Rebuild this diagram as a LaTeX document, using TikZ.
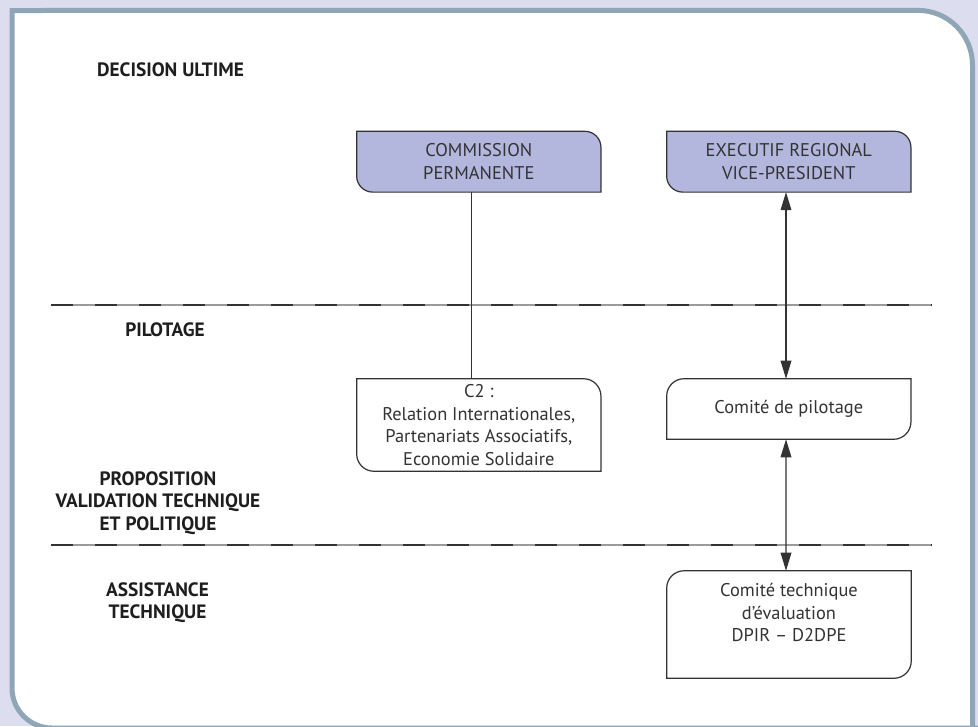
\documentclass[tikz,border=0pt]{standalone}
\usepackage{fontspec}
\setmainfont{PT Sans}
\usetikzlibrary{arrows.meta}

\definecolor{pagebg}{HTML}{DDDDF0}
\definecolor{panelrim}{HTML}{8FA6B8}
\definecolor{boxfill}{HTML}{B3B7DE}
\definecolor{inkdark}{HTML}{333333}
\definecolor{inkgray}{HTML}{9A9A9A}
\definecolor{headink}{HTML}{1E1E1E}

\tikzset{
  head/.style={font=\bfseries\fontsize{14.5}{17}\selectfont, text=headink, align=center, inner sep=0pt},
  boxtext/.style={font=\fontsize{13.8}{16.8}\selectfont, text=inkdark, align=center, inner sep=0pt},
  boxshape/.style={boxtext, draw=none, rectangle},
  boxline/.style={draw=inkdark, line width=0.9pt},
  link/.style={draw=inkdark, line width=0.9pt},
  biarrow/.style={link, {Triangle[length=13.5pt,width=8pt]}-{Triangle[length=13.5pt,width=8pt]}},
  sepgray/.style={draw=inkgray, line width=1.5pt},
  sepdark/.style={draw=inkdark, line width=1.5pt, dash pattern=on 16.5pt off 16.5pt},
}

\begin{document}
\begin{tikzpicture}[x=0.75pt, y=-0.75pt]
\useasboundingbox (0,0) rectangle (978,726);
\fill[pagebg] (0,0) rectangle (978,726);

% white panel with its rim
\begin{scope}
  \clip (0,0) rectangle (978,726);
  \filldraw[fill=white, draw=panelrim, line width=3.75pt]
    (972.5,760) -- (972.5,65) arc[start angle=0, end angle=90, radius=41pt]
    -- (12,10.5) -- (12,688) arc[start angle=180, end angle=270, radius=30pt]
    -- (990,728) -- (990,760) -- cycle;
\end{scope}

% level headings
\node[head] (hdecision) at (170.5,70) {DECISION ULTIME};
\node[head] (hpilot) at (165,330) {PILOTAGE};
\node[head] (hprop) at (158,503) {PROPOSITION\\VALIDATION TECHNIQUE\\ET POLITIQUE};
\node[head] (hassist) at (157.5,602.5) {ASSISTANCE\\TECHNIQUE};

% level separators
\coordinate (sepAl) at (51,304.5);
\coordinate (sepAr) at (932,304.5);
\coordinate (sepBl) at (51,545);
\coordinate (sepBr) at (932,545);
\draw[sepgray] (sepAl) -- (sepAr);
\draw[sepdark] (sepAl) -- (sepAr);
\draw[sepgray] (sepBl) -- (sepBr);
\draw[sepdark] (sepBl) -- (sepBr);

% box frames (placed first, outlined below)
\node[boxshape, minimum width=182.8pt, minimum height=45.2pt] (cm) at (478.8,161.7) {};
\node[boxshape, minimum width=182.8pt, minimum height=45.2pt] (ex) at (788.8,161.7) {};
\node[boxshape, minimum width=182.8pt, minimum height=69pt] (c2) at (478.8,425) {C2 :\\Relation Internationales,\\Partenariats Associatifs,\\Economie Solidaire};
\node[boxshape, minimum width=182.8pt, minimum height=45pt] (pil) at (788.8,409) {Comité de pilotage};
\node[boxshape, minimum width=183pt, minimum height=80.25pt] (tec) at (789,624.5) {};

% filled boxes: rounded top right and bottom left
\filldraw[boxline, fill=boxfill]
  (cm.north west) -- ([xshift=-12pt]cm.north east)
  arc[start angle=90, end angle=0, radius=12pt] -- (cm.south east)
  -- ([xshift=12pt]cm.south west)
  arc[start angle=270, end angle=180, radius=12pt] -- cycle;
\filldraw[boxline, fill=boxfill]
  (ex.north west) -- ([xshift=-12pt]ex.north east)
  arc[start angle=90, end angle=0, radius=12pt] -- (ex.south east)
  -- ([xshift=12pt]ex.south west)
  arc[start angle=270, end angle=180, radius=12pt] -- cycle;
\node[boxtext] (cmtext) at (cm.center) {COMMISSION\\PERMANENTE};
\node[boxtext] (extext) at (ex.center) {EXECUTIF REGIONAL\\VICE-PRESIDENT};

% C2 box: rounded top right and bottom left
\draw[boxline]
  (c2.north west) -- ([xshift=-13pt]c2.north east)
  arc[start angle=90, end angle=0, radius=13pt] -- (c2.south east)
  -- ([xshift=13pt]c2.south west)
  arc[start angle=270, end angle=180, radius=13pt] -- cycle;

% committee boxes: rounded top left and bottom right
\draw[boxline]
  ([yshift=-13pt]pil.north west) arc[start angle=180, end angle=90, radius=13pt]
  -- (pil.north east) -- ([yshift=13pt]pil.south east)
  arc[start angle=0, end angle=-90, radius=13pt] -- (pil.south west) -- cycle;
\draw[boxline]
  ([yshift=-13pt]tec.north west) arc[start angle=180, end angle=90, radius=13pt]
  -- (tec.north east) -- ([yshift=13pt]tec.south east)
  arc[start angle=0, end angle=-90, radius=13pt] -- (tec.south west) -- cycle;
\node[boxtext] (tectext) at (789,612.5) {Comité technique\\d’évaluation\\DPIR – D2DPE};

% connectors
\draw[link] ([xshift=-5.6pt]cm.south) -- ([xshift=-5.6pt]c2.north);
\draw[biarrow] ([xshift=-2.1pt]ex.south) -- ([xshift=-2.1pt]pil.north);
\draw[biarrow] ([xshift=-2.1pt]pil.south) -- ([xshift=-2.25pt]tec.north);
\end{tikzpicture}
\end{document}
